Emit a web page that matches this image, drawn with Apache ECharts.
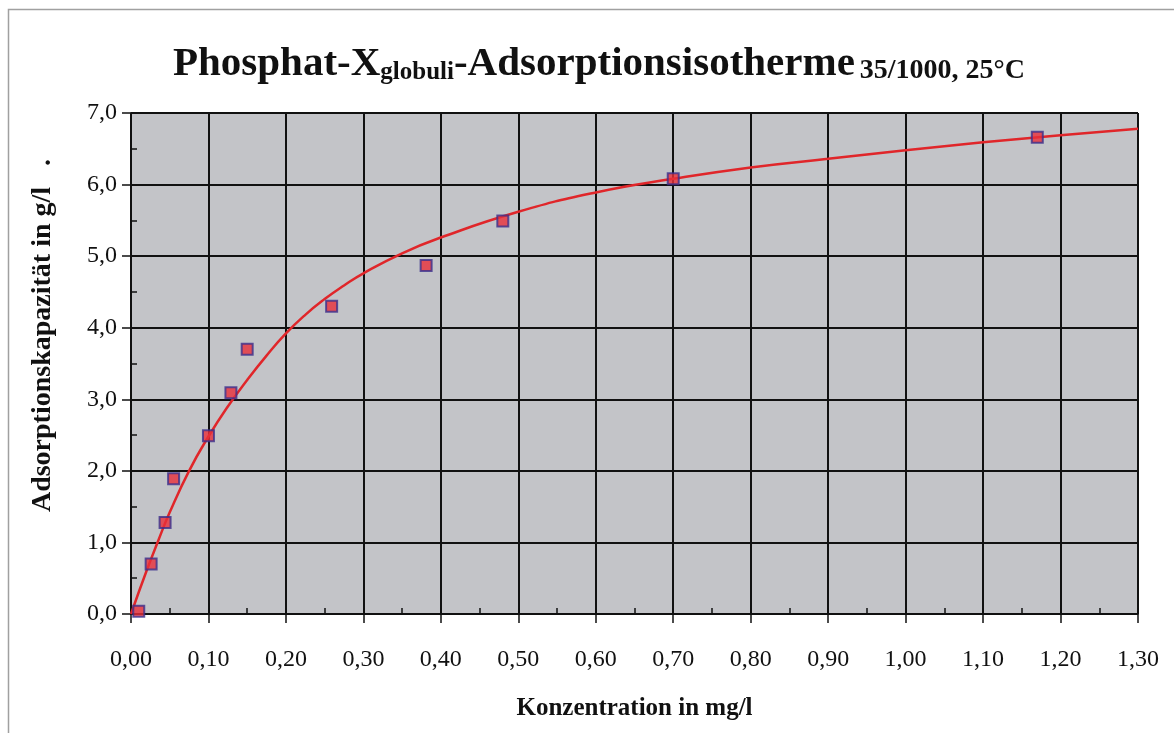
<!DOCTYPE html>
<html>
<head>
<meta charset="utf-8">
<script src="https://cdn.jsdelivr.net/npm/echarts@6/dist/echarts.min.js"></script>
<style>
html,body{margin:0;padding:0;background:#fff;}
#chart{width:1174px;height:733px;}
</style>
</head>
<body>
<div id="chart"></div>
<script>
// Measured points (Konzentration mg/l, Adsorptionskapazität g/l)
const measX = [0.010, 0.026, 0.044, 0.055, 0.100, 0.129, 0.150, 0.259, 0.381, 0.480, 0.700, 1.170];
const measY = [0.04, 0.70, 1.28, 1.89, 2.49, 3.09, 3.70, 4.30, 4.87, 5.49, 6.08, 6.66];
// Fitted isotherm curve
const curveX = [0, 0.02, 0.035, 0.05, 0.075, 0.10, 0.125, 0.15, 0.175, 0.20, 0.225, 0.25, 0.275, 0.30, 0.35, 0.40, 0.50, 0.60, 0.70, 0.80, 0.90, 1.00, 1.10, 1.20, 1.30];
const curveY = [0, 0.60, 1.02, 1.42, 2.00, 2.48, 2.90, 3.27, 3.61, 3.92, 4.18, 4.40, 4.59, 4.76, 5.04, 5.26, 5.62, 5.89, 6.08, 6.24, 6.36, 6.48, 6.59, 6.69, 6.78];
const xTicks = ['0,00','0,10','0,20','0,30','0,40','0,50','0,60','0,70','0,80','0,90','1,00','1,10','1,20','1,30'];
const yTicks = ['0,0','1,0','2,0','3,0','4,0','5,0','6,0','7,0'];

const serif = '"Liberation Serif", "DejaVu Serif", serif';
const chart = echarts.init(document.getElementById('chart'));
const grid = {left:131, right:36, top:113, bottom:119, show:true, backgroundColor:'#c3c4c8', borderColor:'#8a8a8a', borderWidth:1};

chart.setOption({
  backgroundColor:'#ffffff',
  animation:false,
  title:{
    text:'{a|Phosphat-X}{b|globuli}{a|-Adsorptionsisotherme} {c|35/1000, 25°C}',
    left:168, top:34,
    textStyle:{
      rich:{
        a:{fontFamily:serif, fontWeight:'bold', fontSize:41, color:'#111', verticalAlign:'bottom', lineHeight:46},
        b:{fontFamily:serif, fontWeight:'bold', fontSize:25, color:'#111', verticalAlign:'bottom', lineHeight:46},
        c:{fontFamily:serif, fontWeight:'bold', fontSize:28, color:'#111', verticalAlign:'bottom', lineHeight:46}
      }
    }
  },
  grid:[grid],
  xAxis:[{
    type:'value', min:0, max:1.3, interval:0.1,
    name:'Konzentration in mg/l', nameLocation:'middle', nameGap:82,
    nameTextStyle:{fontFamily:serif, fontWeight:'bold', fontSize:25, color:'#111'},
    axisLine:{show:true, lineStyle:{color:'#111', width:1.5}},
    axisTick:{show:true, inside:false, length:9, lineStyle:{color:'#111', width:1.5}},
    axisLabel:{fontFamily:serif, fontSize:24, color:'#111', margin:34,
      formatter:function(v){ return xTicks[Math.round(v*10)]; }},
    splitLine:{show:true, lineStyle:{color:'#111', width:2}}
  },{
    type:'value', min:0, max:1.3, interval:0.05, position:'bottom',
    axisLine:{show:false}, axisLabel:{show:false}, splitLine:{show:false},
    axisTick:{show:true, inside:true, length:6, lineStyle:{color:'#111', width:1.5}}
  }],
  yAxis:[{
    type:'value', min:0, max:7, interval:1,
    name:'Adsorptionskapazität in g/l   .', nameLocation:'middle', nameGap:74,
    nameTextStyle:{fontFamily:serif, fontWeight:'bold', fontSize:28, color:'#111', padding:[0,0,0,56]},
    axisLine:{show:true, lineStyle:{color:'#111', width:1.5}},
    axisTick:{show:true, inside:false, length:9, lineStyle:{color:'#111', width:1.5}},
    axisLabel:{fontFamily:serif, fontSize:24, color:'#111', margin:14,
      formatter:function(v){ return yTicks[Math.round(v)]; }},
    splitLine:{show:true, lineStyle:{color:'#111', width:2}}
  },{
    type:'value', min:0, max:7, interval:0.5, position:'left',
    axisLine:{show:false}, axisLabel:{show:false}, splitLine:{show:false},
    axisTick:{show:true, inside:true, length:6, lineStyle:{color:'#111', width:1.5}}
  }],
  graphic:[{
    type:'rect', shape:{x:8.5, y:9.5, width:1180, height:740},
    style:{fill:'none', stroke:'#a0a0a0', lineWidth:1.5}, silent:true, z:-1
  }],
  series:[{
    type:'line', xAxisIndex:0, yAxisIndex:0,
    data:curveX.map((x,i)=>[x, curveY[i]]),
    smooth:0.5, showSymbol:false, symbol:'none',
    lineStyle:{color:'#e0262a', width:2.5}, z:3
  },{
    type:'scatter', xAxisIndex:0, yAxisIndex:0,
    data:measX.map((x,i)=>[x, measY[i]]),
    symbol:'rect', symbolSize:11,
    itemStyle:{color:'#e8303a', borderColor:'#3b2f8c', borderWidth:2}, z:4
  }]
});
</script>
</body>
</html>
